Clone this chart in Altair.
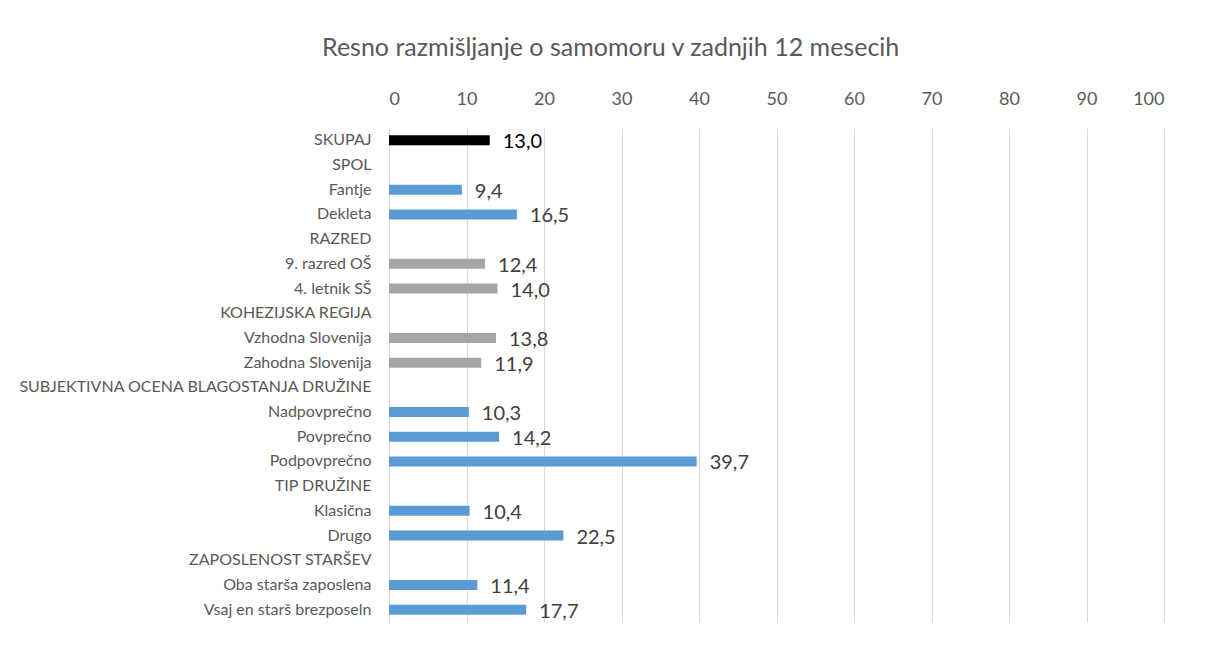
import altair as alt
import pandas as pd

categories = [
    "SKUPAJ", "SPOL", "Fantje", "Dekleta", "RAZRED", "9. razred OŠ", "4. letnik SŠ",
    "KOHEZIJSKA REGIJA", "Vzhodna Slovenija", "Zahodna Slovenija",
    "SUBJEKTIVNA OCENA BLAGOSTANJA DRUŽINE", "Nadpovprečno", "Povprečno", "Podpovprečno",
    "TIP DRUŽINE", "Klasična", "Drugo", "ZAPOSLENOST STARŠEV",
    "Oba starša zaposlena", "Vsaj en starš brezposeln",
]
values = [13.0, None, 9.4, 16.5, None, 12.4, 14.0, None, 13.8, 11.9,
          None, 10.3, 14.2, 39.7, None, 10.4, 22.5, None, 11.4, 17.7]
groups = ["skupaj", "", "blue", "blue", "", "gray", "gray", "", "gray", "gray",
          "", "blue", "blue", "blue", "", "blue", "blue", "", "blue", "blue"]
ticks = [0, 10, 20, 30, 40, 50, 60, 70, 80, 90, 100]

df = pd.DataFrame({"cat": categories, "val": values, "grp": groups})
df["label"] = df["val"].apply(lambda v: "" if pd.isna(v) else f"{v:.1f}".replace(".", ","))

FONT = "Lato"

y_enc = alt.Y("cat:N", sort=categories, title=None,
              scale=alt.Scale(domain=categories, paddingInner=0, paddingOuter=0.0),
              axis=alt.Axis(ticks=False, domain=False, labelFontSize=16, labelColor="#595959",
                            labelFont=FONT, labelPadding=18, labelLimit=500))
x_enc = alt.X("val:Q", title=None,
              scale=alt.Scale(domain=[0, 100], nice=False),
              axis=alt.Axis(orient="top", values=ticks, ticks=False, domain=False,
                            labelFontSize=18, labelColor="#595959", labelFont=FONT,
                            labelPadding=20, gridColor="#D9D9D9", gridWidth=1))

base = alt.Chart(df).encode(y=y_enc)

bars = base.transform_filter("datum.val != null").mark_bar(size=10).encode(
    x=x_enc,
    color=alt.Color("grp:N", scale=alt.Scale(domain=["skupaj", "blue", "gray"],
                                             range=["#000000", "#5B9BD5", "#A5A5A5"]),
                    legend=None),
)

labels = base.transform_filter("datum.val != null").mark_text(
    align="left", baseline="middle", dx=13, dy=2, fontSize=20, font=FONT
).encode(
    x=alt.X("val:Q", scale=alt.Scale(domain=[0, 100], nice=False)),
    text="label:N",
    color=alt.condition("datum.grp == 'skupaj'", alt.value("#000000"), alt.value("#404040")),
)

chart = alt.layer(bars, labels).properties(
    width=775, height=494,
    title=alt.Title("Resno razmišljanje o samomoru v zadnjih 12 mesecih", fontSize=25,
                    font=FONT, fontWeight="normal", color="#595959", anchor="middle",
                    frame="bounds", offset=29, dx=20),
    padding={"left": 9, "top": 28, "right": 20, "bottom": 16},
).configure_view(stroke=None)

chart.save("out.html", embed_options={"renderer": "svg", "actions": False})
